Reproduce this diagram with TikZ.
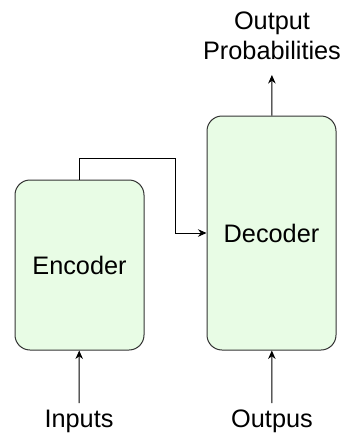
\documentclass[tikz,border=0pt]{standalone}
\usepackage{fontspec}
\setmainfont{Liberation Sans}
\usepackage{tikz}
\usetikzlibrary{positioning,arrows.meta}

\definecolor{blockfill}{HTML}{E8FCE5}
\definecolor{blockline}{HTML}{333333}

\tikzset{
  block/.style={draw=blockline, fill=blockfill, line width=1pt, rounded corners=15pt,
    minimum width=129pt, inner sep=0pt},
  txt/.style={font=\fontsize{25.3}{30}\selectfont, align=center, inner sep=0pt},
  flow/.style={-{Stealth[length=8.5pt,width=7.5pt]}, line width=1pt, black},
}

\begin{document}
\begin{tikzpicture}[x=1pt, y=-1pt]
\useasboundingbox (0,0) rectangle (342,434);

% Blocks
\node[block, minimum height=170pt, txt] (enc) at (79.5,265) {Encoder};
\node[block, minimum height=234pt, txt] (dec) at (271.5,233) {Decoder};

% Labels
\node[txt, anchor=north] (inp) at (79,410) {Inputs};
\node[txt, anchor=north] (outp) at (272,410) {Outpus};
\node[txt, anchor=south] (prob) at (272,60) {Output\\Probabilities};

% Arrows
\draw[flow, shorten <=7pt] (inp) -- (enc);
\draw[flow, shorten <=7pt] (outp) -- (dec);
\draw[flow, shorten >=15pt] (dec) -- (prob);
\draw[flow] (enc.north) |- (175,158) |- (dec.west);
\end{tikzpicture}
\end{document}
